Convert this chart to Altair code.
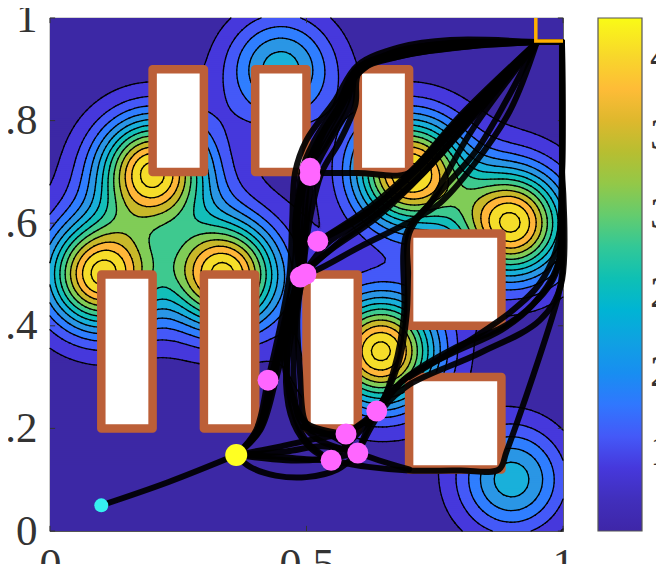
import numpy as np
import pandas as pd
import altair as alt

# ---- potential field: peaks
peak_x = [0.10, 0.20, 0.34, 0.45, 0.70, 0.90, 0.645, 0.90]
peak_y = [0.50, 0.70, 0.50, 0.90, 0.70, 0.60, 0.35, 0.10]
peak_h = [2.82, 2.82, 2.82, 1.38, 2.82, 2.82, 2.88, 1.38]
peak_s = [0.074, 0.074, 0.074, 0.075, 0.074, 0.074, 0.074, 0.075]
tail_h = [0.20, 0.20, 0.20, 0.0, 0.20, 0.20, 0.20, 0.0]
tail_s = 0.125
field_base = 1.0

contour_levels = [1.25, 1.5, 1.75, 2.0, 2.25, 2.5, 2.75, 3.0, 3.25, 3.5, 3.75, 4.0]
band_values = [1.05, 1.4, 1.6, 1.85, 2.1, 2.35, 2.55, 2.85, 3.1, 3.5, 3.75, 4.05, 4.05]

color_domain = [1.0, 1.05, 1.4, 1.6, 1.85, 2.1, 2.35, 2.55, 2.85, 3.1, 3.5, 3.75, 4.05, 4.25]
color_range = ["#3E26A8", "#3C28A5", "#4638DC", "#4459F8", "#2F7EFF", "#2A96E5", "#19B0DA",
               "#13BEB9", "#3EC98F", "#80CC57", "#C8B82A", "#FFB63A", "#F5DD2A", "#F9FB15"]
colorbar_ticks = [1.5, 2, 2.5, 3, 3.5, 4]
cbar_min, cbar_max = 1.0, 4.25

x_ticks = [0, 0.5, 1]
y_ticks = [0, 0.2, 0.4, 0.6, 0.8, 1]

# ---- obstacles [x0, x1, y0, y1]
obs_x0 = [0.2, 0.4, 0.6, 0.1, 0.3, 0.5, 0.7, 0.7]
obs_x1 = [0.3, 0.5, 0.7, 0.2, 0.4, 0.6, 0.88, 0.88]
obs_y0 = [0.7, 0.7, 0.7, 0.2, 0.2, 0.2, 0.4, 0.12]
obs_y1 = [0.9, 0.9, 0.9, 0.5, 0.5, 0.5, 0.58, 0.30]

# ---- sampled nodes
pink_x = [0.507, 0.507, 0.522, 0.488, 0.499, 0.425, 0.577, 0.548, 0.600, 0.637]
pink_y = [0.707, 0.693, 0.565, 0.495, 0.501, 0.294, 0.189, 0.138, 0.152, 0.234]
start_pt = (0.10, 0.05)
waypoint = (0.363, 0.148)
goal_corner_x = [0.947, 0.947, 1.0]
goal_corner_y = [1.0, 0.955, 0.955]

# ---- tree paths
Y = (0.363, 0.148)
G = (0.949, 0.953)
paths = [
    [(0.10, 0.05), (0.23, 0.095), Y],
    [Y, (0.402, 0.197), (0.425, 0.294), (0.449, 0.40), (0.467, 0.50), (0.472, 0.60), (0.478, 0.70), (0.50, 0.762), (0.556, 0.84), (0.60, 0.908), (0.682, 0.943), (0.78, 0.957), G],
    [Y, (0.405, 0.197), (0.43, 0.294), (0.455, 0.40), (0.475, 0.50), (0.482, 0.60), (0.49, 0.70), (0.515, 0.76), (0.565, 0.84), (0.60, 0.903), (0.69, 0.935), (0.80, 0.95), G],
    [Y, (0.408, 0.197), (0.435, 0.294), (0.46, 0.40), (0.485, 0.50), (0.495, 0.60), (0.505, 0.70), (0.53, 0.76), (0.575, 0.84), (0.60, 0.90), (0.69, 0.93), (0.81, 0.947), G],
    [Y, (0.41, 0.197), (0.44, 0.294), (0.466, 0.40), (0.49, 0.50)],
    [(0.493, 0.50), (0.50, 0.60), (0.515, 0.70), (0.545, 0.76), (0.585, 0.83), (0.60, 0.898), (0.685, 0.926), (0.82, 0.945), G],
    [(0.493, 0.50), (0.505, 0.60), (0.53, 0.70), (0.565, 0.76), (0.595, 0.83), (0.603, 0.895), (0.685, 0.926), (0.819, 0.945), G],
    [(0.488, 0.50), (0.478, 0.60), (0.497, 0.70), (0.522, 0.76), (0.57, 0.84), (0.60, 0.90), (0.70, 0.94), (0.79, 0.952), G],
    [(0.488, 0.50), (0.488, 0.60), (0.50, 0.70), (0.54, 0.76), (0.58, 0.84), (0.60, 0.90), (0.71, 0.932), (0.80, 0.948), G],
    [(0.49, 0.52), (0.483, 0.62), (0.51, 0.72), (0.535, 0.78), (0.56, 0.82), (0.59, 0.88), (0.66, 0.93), (0.78, 0.95), G],
    [(0.577, 0.189), (0.50, 0.21), (0.47, 0.27), (0.455, 0.35), (0.465, 0.43), (0.49, 0.50)],
    [(0.548, 0.138), (0.51, 0.16), (0.475, 0.21), (0.46, 0.29), (0.47, 0.38), (0.49, 0.48)],
    [(0.577, 0.189), (0.51, 0.195), (0.495, 0.22), (0.487, 0.314), (0.482, 0.41), (0.49, 0.49)],
    [(0.60, 0.152), (0.52, 0.18), (0.485, 0.22), (0.475, 0.30), (0.478, 0.40), (0.487, 0.49)],
    [(0.548, 0.138), (0.50, 0.175), (0.47, 0.25), (0.462, 0.33), (0.47, 0.42), (0.485, 0.50)],
    [Y, (0.45, 0.165), (0.52, 0.18), (0.577, 0.189)],
    [Y, (0.44, 0.145), (0.50, 0.14), (0.548, 0.138)],
    [Y, (0.46, 0.138), (0.53, 0.14), (0.60, 0.152)],
    [Y, (0.39, 0.125), (0.44, 0.108), (0.50, 0.105), (0.56, 0.12), (0.60, 0.152)],
    [Y, (0.46, 0.155), (0.53, 0.165), (0.60, 0.152)],
    [(0.493, 0.203), (0.55, 0.185), (0.60, 0.152)],
    [(0.60, 0.152), (0.637, 0.234), (0.696, 0.30), (0.793, 0.359), (0.883, 0.398), (0.93, 0.431), (0.985, 0.50), (0.997, 0.65), (0.998, 0.953)],
    [(0.577, 0.189), (0.637, 0.234), (0.69, 0.295), (0.78, 0.345), (0.88, 0.392), (0.94, 0.44), (0.99, 0.52), (0.998, 0.70), (0.998, 0.953)],
    [(0.60, 0.152), (0.65, 0.24), (0.70, 0.285), (0.838, 0.347), (0.955, 0.411), (0.996, 0.48), (0.998, 0.70)],
    [(0.70, 0.30), (0.80, 0.36), (0.903, 0.431), (0.955, 0.483), (0.99, 0.56), (0.998, 0.70), (0.998, 0.953)],
    [(0.548, 0.138), (0.60, 0.19), (0.637, 0.234), (0.68, 0.33), (0.695, 0.42), (0.698, 0.50), (0.70, 0.58), (0.76, 0.66), (0.83, 0.74), (0.89, 0.84), G],
    [(0.577, 0.189), (0.637, 0.234), (0.672, 0.32), (0.69, 0.42), (0.695, 0.58), (0.745, 0.645), (0.77, 0.69), (0.823, 0.782), G],
    [(0.507, 0.698), (0.60, 0.698), (0.70, 0.698), (0.78, 0.78), (0.86, 0.86), G],
    [(0.522, 0.565), (0.624, 0.632), (0.712, 0.71), (0.80, 0.81), G],
    [(0.522, 0.565), (0.624, 0.626), (0.715, 0.704), (0.809, 0.807), G],
    [(0.522, 0.565), (0.62, 0.62), (0.705, 0.70), (0.795, 0.80), G],
    [(0.493, 0.50), (0.54, 0.56), (0.63, 0.62), (0.72, 0.70), (0.815, 0.805), G],
    [(0.493, 0.50), (0.56, 0.56), (0.64, 0.62), (0.725, 0.695), (0.82, 0.80), G],
    [(0.50, 0.51), (0.55, 0.55), (0.635, 0.61), (0.73, 0.70), (0.825, 0.81), G],
    [(0.493, 0.50), (0.52, 0.509), (0.604, 0.554), (0.696, 0.60), (0.76, 0.639), (0.823, 0.71), (0.897, 0.82), G],
    [(0.548, 0.138), (0.62, 0.125), (0.70, 0.118), (0.80, 0.118), (0.875, 0.12), (0.89, 0.155), (0.99, 0.455), (0.998, 0.50), (0.998, 0.70), (0.998, 0.953)],
    [(0.60, 0.152), (0.65, 0.135), (0.70, 0.12)],
    [(0.949, 0.953), (0.998, 0.953)],
]


def field(xx, yy):
    z = np.full_like(xx, field_base, dtype=float)
    for px, py, ph, ps, th in zip(peak_x, peak_y, peak_h, peak_s, tail_h):
        r2 = (xx - px) ** 2 + (yy - py) ** 2
        z += ph * np.exp(-r2 / (2 * ps ** 2)) + th * np.exp(-r2 / (2 * tail_s ** 2))
    return z


# filled bands, one rect per run of equal band in each row
n_fill = 256
cx = (np.arange(n_fill) + 0.5) / n_fill
xx, yy = np.meshgrid(cx, cx)
bands = np.digitize(field(xx, yy), contour_levels)
cells = []
dc = 1 / n_fill
for j in range(n_fill):
    row = bands[j]
    cuts = [0] + list(np.nonzero(np.diff(row))[0] + 1) + [n_fill]
    for a, b in zip(cuts[:-1], cuts[1:]):
        cells.append({
            "x0": round(a * dc, 4), "x1": round(min(1.0, (b + 0.5) * dc), 4),
            "y0": round(j * dc, 4), "y1": round(min(1.0, (j + 1.5) * dc), 4),
            "level": band_values[row[a]],
        })
cells = pd.DataFrame(cells)

# contour segments (marching squares)
n_line = 128
gx = np.linspace(0, 1, n_line + 1)
X, Z_y = np.meshgrid(gx, gx)
Z = field(X, Z_y)
segs = []
for lev in contour_levels:
    A = Z[:-1, :-1]; B = Z[:-1, 1:]; C = Z[1:, 1:]; D = Z[1:, :-1]
    code = (A > lev) * 1 + (B > lev) * 2 + (C > lev) * 4 + (D > lev) * 8
    for j, i in zip(*np.nonzero((code > 0) & (code < 15))):
        a, b, c, d = A[j, i], B[j, i], C[j, i], D[j, i]
        x0, x1, y0, y1 = gx[i], gx[i + 1], gx[j], gx[j + 1]
        pts = []
        if (a > lev) != (b > lev):
            pts.append((x0 + (lev - a) / (b - a) * (x1 - x0), y0))
        if (b > lev) != (c > lev):
            pts.append((x1, y0 + (lev - b) / (c - b) * (y1 - y0)))
        if (d > lev) != (c > lev):
            pts.append((x0 + (lev - d) / (c - d) * (x1 - x0), y1))
        if (a > lev) != (d > lev):
            pts.append((x0, y0 + (lev - a) / (d - a) * (y1 - y0)))
        for k in range(0, len(pts) - 1, 2):
            segs.append({"x0": round(pts[k][0], 4), "y0": round(pts[k][1], 4),
                         "x1": round(pts[k + 1][0], 4), "y1": round(pts[k + 1][1], 4)})
segs = pd.DataFrame(segs)

path_df = pd.DataFrame([
    {"path": pi, "order": oi, "x": p[0], "y": p[1]}
    for pi, pts in enumerate(paths) for oi, p in enumerate(pts)
])

x_scale = alt.Scale(domain=[0, 1], nice=False, zero=False)
y_scale = alt.Scale(domain=[0, 1], nice=False, zero=False)
FONT = "Liberation Serif"
TXT = "#333333"

x_axis = alt.Axis(
    values=x_ticks, title=None, ticks=False, domain=False, grid=False, labelFont=FONT,
    labelFontSize=44, labelColor=TXT, labelPadding=12, labelFlush=False, labelBound=False,
    labelOverlap=False, format="~g")
y_axis = alt.Axis(
    values=y_ticks, title=None, ticks=False, domain=False, grid=False, labelFont=FONT,
    labelFontSize=43, labelColor=TXT, labelPadding=13, labelFlush=False, labelBound=False,
    labelOverlap=False,
    labelExpr="datum.value == 0 ? '0' : datum.value == 1 ? '1' : replace(format(datum.value, '.1f'), '0.', '.')")

xq = lambda f="x": alt.X(f"{f}:Q", scale=x_scale, axis=x_axis)
yq = lambda f="y": alt.Y(f"{f}:Q", scale=y_scale, axis=y_axis)

heat = alt.Chart(cells).mark_rect(strokeWidth=0).encode(
    x=xq("x0"),
    x2="x1:Q",
    y=yq("y0"),
    y2="y1:Q",
    color=alt.Color("level:Q", scale=alt.Scale(domain=color_domain, range=color_range, nice=False, zero=False),
                    legend=alt.Legend(
                        orient="none", legendX=548, legendY=0, title=None, type="gradient",
                        direction="vertical", gradientLength=513, gradientThickness=44,
                        gradientStrokeColor="#555555", gradientStrokeWidth=1.2,
                        values=colorbar_ticks, labelFont=FONT, labelFontSize=44, labelColor=TXT,
                        labelOffset=8, labelOverlap=False, labelLimit=200)),
)

contours = alt.Chart(segs).mark_rule(color="black", strokeWidth=1.3, strokeCap="round").encode(
    x=xq("x0"), x2="x1:Q", y=yq("y0"), y2="y1:Q")

obs_df = pd.DataFrame({"x0": obs_x0, "x1": obs_x1, "y0": obs_y0, "y1": obs_y1})
obstacles = alt.Chart(obs_df).mark_rect(fill="white", stroke="#BC5F38", strokeWidth=8.5, strokeJoin="round").encode(
    x=xq("x0"), x2="x1:Q", y=yq("y0"), y2="y1:Q")

lines = alt.Chart(path_df).mark_line(color="black", strokeWidth=6, opacity=0.93, interpolate="catmull-rom",
                                     strokeCap="round", strokeJoin="round").encode(
    x=xq(), y=yq(), detail="path:N", order="order:Q")

corner = alt.Chart(pd.DataFrame({"x": goal_corner_x, "y": goal_corner_y, "o": [0, 1, 2]})).mark_line(
    color="#FFB000", strokeWidth=3.5).encode(x=xq(), y=yq(), order="o:Q")

pink = alt.Chart(pd.DataFrame({"x": pink_x, "y": pink_y})).mark_point(
    filled=True, color="#FF66FF", opacity=1, size=441).encode(x=xq(), y=yq())
wp = alt.Chart(pd.DataFrame({"x": [waypoint[0]], "y": [waypoint[1]]})).mark_point(
    filled=True, color="#FFFF22", opacity=1, size=484).encode(x=xq(), y=yq())
st = alt.Chart(pd.DataFrame({"x": [start_pt[0]], "y": [start_pt[1]]})).mark_point(
    filled=True, color="#36F0F0", opacity=1, size=196).encode(x=xq(), y=yq())

# inward ticks on all four sides of the box
tick_len = 0.01
tick_rows = []
for v in x_ticks:
    tick_rows += [dict(x0=v, x1=v, y0=0, y1=tick_len), dict(x0=v, x1=v, y0=1 - tick_len, y1=1)]
for v in y_ticks:
    tick_rows += [dict(x0=0, x1=tick_len, y0=v, y1=v), dict(x0=1 - tick_len, x1=1, y0=v, y1=v)]
ticks = alt.Chart(pd.DataFrame(tick_rows)).mark_rule(color="#333333", strokeWidth=1).encode(
    x=xq("x0"), x2="x1:Q", y=yq("y0"), y2="y1:Q")

cb_ticks = alt.Chart(pd.DataFrame({"y": [(v - cbar_min) / (cbar_max - cbar_min) for v in colorbar_ticks]})).mark_rule(
    color="#333333", strokeWidth=1).encode(x=alt.value(587), x2=alt.value(592), y=yq())

chart = alt.layer(heat, contours, ticks, obstacles, lines, corner, pink, wp, st, cb_ticks).properties(
    width=513, height=513,
    autosize=alt.AutoSizeParams(type="none"),
    padding={"left": 42, "top": 10, "right": 93, "bottom": 33},
).configure_view(stroke="#555555", strokeWidth=1.2).configure_legend(labelBaseline="middle")

chart.save("out.html", embed_options={"renderer": "svg", "actions": False})
